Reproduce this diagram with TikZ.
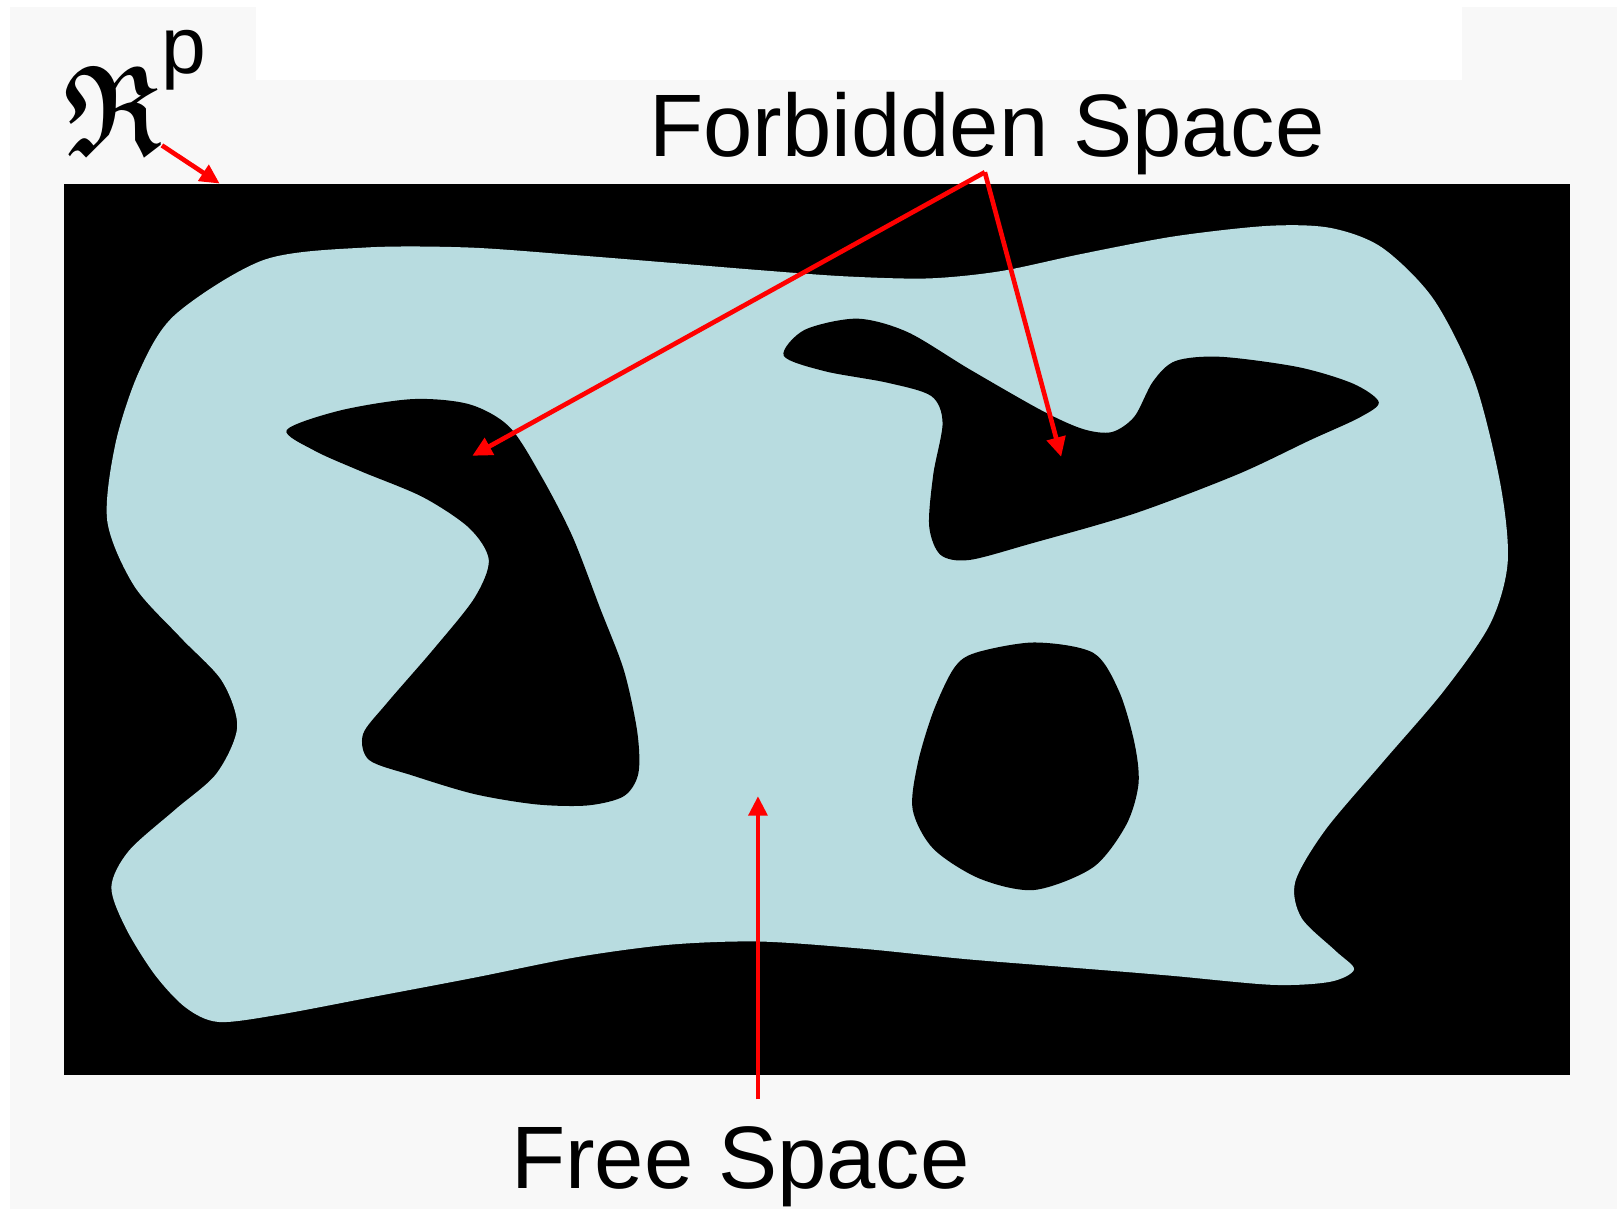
\documentclass[tikz,border=0pt]{standalone}
\usepackage{fontspec}
\setmainfont{Liberation Sans}
\usepackage{graphicx}
\usepackage{amssymb}
\usetikzlibrary{arrows.meta}
\definecolor{bggray}{HTML}{F8F8F8}
\definecolor{freeblue}{HTML}{B8DCE0}
\begin{document}
\begin{tikzpicture}[x=1pt,y=-1pt,
  redarrow/.style={draw=red, line width=4.5pt, -{Triangle[length=19pt,width=18pt]}},
  bigtext/.style={font=\fontsize{86}{100}\selectfont, inner sep=0pt, anchor=base}]
\useasboundingbox (0,0) rectangle (1568,1172);
\fill[white] (0,0) rectangle (1568,1172);
\fill[bggray] (10,7) rectangle (1568,1172);
\fill[white] (248,0) rectangle (1418,78);
% configuration space
\fill[black] (62,178) rectangle (1522,1042);
% free space
\fill[freeblue] plot[smooth cycle] coordinates {
 (256,252) (355,240) (454,240) (553,247) (652,255) (737,262) (820,268) (900,270)
 (970,263) (1050,246) (1140,229) (1230,219) (1290,221) (1340,240) (1390,290)
 (1430,370) (1455,470) (1462,545) (1445,605) (1400,670) (1340,740) (1285,805)
 (1256,855) (1262,890) (1295,922) (1313,940) (1290,952) (1234,955) (1134,946)
 (1036,938) (936,930) (837,920) (737,913) (650,916) (560,928) (460,948)
 (360,967) (270,984) (212,991) (180,977) (150,945) (122,900) (108,860)
 (125,825) (170,785) (210,750) (230,705) (215,660) (175,618) (130,568)
 (104,505) (112,430) (135,360) (170,305)};
% forbidden islands
\fill[black] plot[smooth cycle] coordinates {
 (278,417) (330,398) (400,387) (455,392) (494,414) (525,462) (555,520)
 (582,590) (605,650) (618,710) (619,750) (605,772) (570,781) (520,780)
 (460,770) (400,752) (358,737) (352,712) (375,682) (420,630) (460,580)
 (474,543) (455,512) (410,482) (350,457) (305,437)};
\fill[black] plot[smooth cycle] coordinates {
 (760,345) (780,320) (831,309) (880,322) (940,358) (1010,398) (1050,416)
 (1078,419) (1100,404) (1118,370) (1140,350) (1184,346) (1259,356) (1312,372)
 (1337,390) (1318,405) (1270,427) (1200,460) (1100,498) (1000,527) (940,543)
 (912,538) (901,510) (905,460) (914,410) (903,384) (860,371) (800,360)};
\fill[black] plot[smooth cycle] coordinates {
 (946,633) (1003,623) (1060,633) (1085,670) (1100,720) (1104,760) (1092,800)
 (1060,841) (1003,863) (950,852) (905,823) (885,785) (890,740) (905,690) (925,648)};
% labels
\node[bigtext] (fs) at (957,152) {Forbidden Space};
\node[bigtext] (free) at (718,1152) {Free Space};
\node[inner sep=0pt, anchor=base west] (rp) at (62,150) {\scalebox{9.6}[12.4]{\boldmath$\mathfrak{R}$}};
\node[font=\fontsize{78}{90}\selectfont, inner sep=0pt, anchor=base west] (rpp) at (156,71) {p};
% arrow end points
\coordinate (rpfoot) at (157,141);
\coordinate (rptip) at (213,178);
\coordinate (fsapex) at (955,167);
\coordinate (hole1) at (458,442);
\coordinate (hole2) at (1029,443);
\coordinate (freetail) at (735,1066);
\coordinate (freetip) at (735,772);
\draw[redarrow] (rpfoot) -- (rptip);
\draw[redarrow] (fsapex) -- (hole1);
\draw[redarrow] (fsapex) -- (hole2);
\draw[redarrow] (freetail) -- (freetip);
\end{tikzpicture}
\end{document}
